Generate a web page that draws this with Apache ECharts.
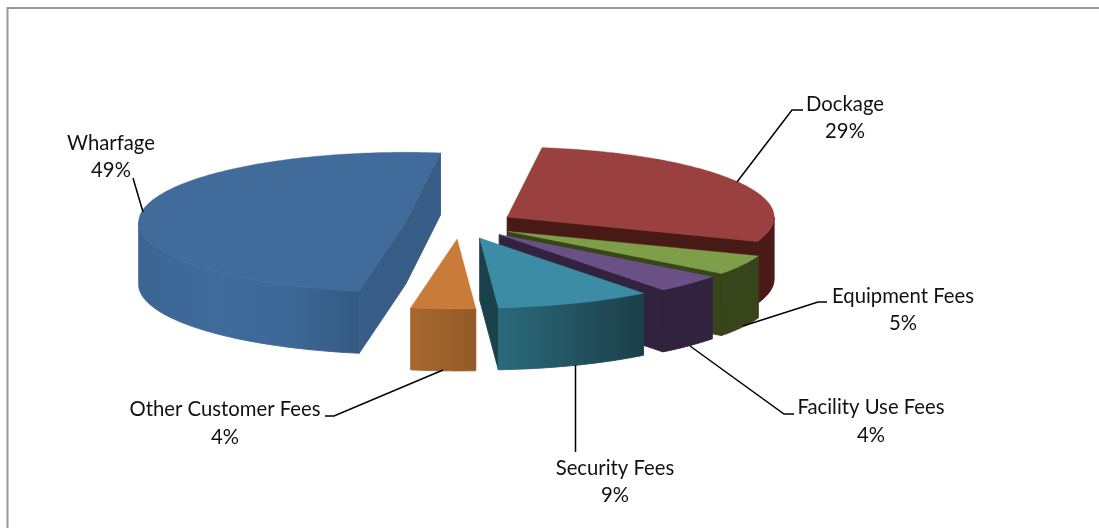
<!DOCTYPE html>
<html><head><meta charset="utf-8">
<style>html,body{margin:0;padding:0;background:#fff}#c{width:1099px;height:528px}</style>
<script src="https://cdn.jsdelivr.net/npm/echarts@6/dist/echarts.min.js"></script>
</head><body><div id="c"></div>
<script>
var categories = ['Dockage','Equipment Fees','Facility Use Fees','Security Fees','Other Customer Fees','Wharfage'];
var shares = [28.6,4.6,4.2,9.4,3.9,49.3];

var startDeg = 7.5, cx = 460, cy = 224.5, rx = 267, ry = 70, depth = 62, explode = 55;
var total = shares.reduce(function(a,b){return a+b;},0);
var looks = [
  {top:'#9a403e', wall:'#4a1a17', end:'#471a16'},
  {top:'#7f9e4a', wall:'#38451b', end:'#38451b'},
  {top:'#6a5084', wall:'#31223d', end:'#31223d'},
  {top:'#3d8ca6', wall:['#2b6a7a','#1b3f49'], end:'#1a424c'},
  {top:'#c97b3a', wall:['#a8682f','#925a28'], end:'#925a28'},
  {top:'#406b9b', wall:['#3b6592','#3f6b9c','#3d6897','#345a82'], end:'#375d86'}
];
var labels = [
  {x:845,y:118,line:[[737,182],[792,110],[803,110]]},
  {x:903,y:310,line:[[743,326],[818,302],[827,302]]},
  {x:871,y:421.5,line:[[690,346],[784,414],[794,414]]},
  {x:615,y:482,line:[[575.5,365],[575.5,452]]},
  {x:225,y:423.5,line:[[443,370],[334,416],[325,416]]},
  {x:111,y:157,line:[[143,212],[133,178]]}
];
function paint(c){
  if(typeof c==='string') return c;
  return {type:'linear',x:0,y:0,x2:1,y2:0,colorStops:c.map(function(k,i){return {offset:i/(c.length-1),color:k};})};
}
function pt(o,deg,h){
  var a=deg*Math.PI/180;
  return [o[0]+rx*Math.sin(a), o[1]-ry*Math.cos(a)+(h||0)];
}
function arcPts(o,a,b,h){
  var p=[],n=Math.max(2,Math.ceil(Math.abs(b-a)));
  for(var i=0;i<=n;i++) p.push(pt(o,a+(b-a)*i/n,h));
  return p;
}
function renderItem(params,api){
  var i=params.dataIndex, val=api.value(1), before=0;
  for(var k=0;k<i;k++) before+=shares[k];
  var a0=startDeg+before/total*360, a1=a0+val/total*360, mid=(a0+a1)/2*Math.PI/180;
  var o=[cx+explode*Math.sin(mid), cy-explode*(ry/rx)*Math.cos(mid)];
  var look=looks[i], ch=[];
  function poly(points,fill,lw){ch.push({type:'polygon',silent:true,shape:{points:points},style:{fill:fill,stroke:fill,lineWidth:lw}});}
  var showStart=Math.sin(a0*Math.PI/180)<0, showEnd=Math.sin(a1*Math.PI/180)>0;
  var oLow=[o[0],o[1]+depth], eA=pt(o,a0), eB=pt(o,a1);
  if(showStart&&showEnd){
    poly([eB,o,eA,[eA[0],eA[1]+depth],oLow,[eB[0],eB[1]+depth]],look.end,0.9);
  }else if(showStart){
    poly([o,eA,[eA[0],eA[1]+depth],oLow],look.end,0.9);
  }else if(showEnd){
    poly([o,eB,[eB[0],eB[1]+depth],oLow],look.end,0.9);
  }
  var w0=Math.max(a0,90), w1=Math.min(a1,270);
  if(w1>w0){
    poly(arcPts(o,w0,w1,0).concat(arcPts(o,w1,w0,depth)),paint(look.wall),0.9);
  }
  poly([o].concat(arcPts(o,a0,a1,0)),look.top,0.4);
  var lb=labels[i];
  ch.push({type:'polyline',silent:true,z2:10,shape:{points:lb.line},style:{fill:null,stroke:'#000',lineWidth:1.5}});
  ch.push({type:'text',silent:true,z2:11,x:lb.x,y:lb.y,style:{
    text:api.value(0)+'\n'+Math.round(val/total*100)+'%',
    fill:'#111',font:'20.3px Lato, Carlito, sans-serif',lineHeight:27.5,align:'center',verticalAlign:'middle'}});
  return {type:'group',children:ch};
}
var chart=echarts.init(document.getElementById('c'),null,{renderer:'canvas'});
chart.setOption({
  animation:false,
  backgroundColor:'#fff',
  graphic:[{type:'polyline',silent:true,shape:{points:[[7.5,528],[7.5,8],[1099,8]]},style:{fill:null,stroke:'#999',lineWidth:2}}],
  series:[{
    type:'custom',coordinateSystem:'none',silent:true,
    encode:{itemName:0,value:1},
    data:categories.map(function(n,i){return [n,shares[i]];}),
    renderItem:renderItem
  }]
});
</script></body></html>
